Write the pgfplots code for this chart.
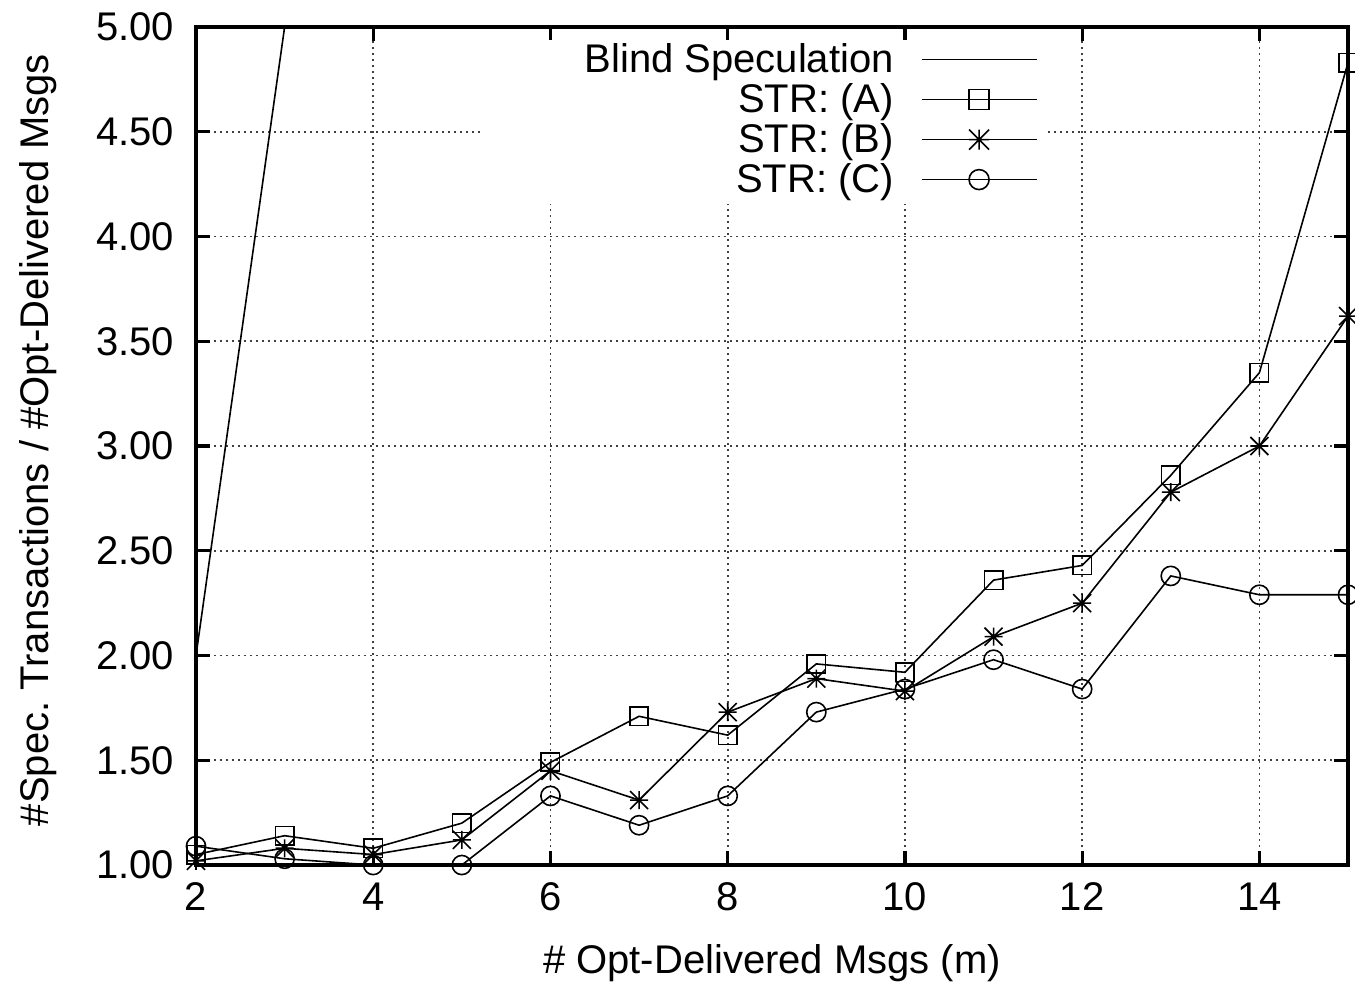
\documentclass[border=0pt]{standalone}
\usepackage{fontspec}
\setmainfont{Liberation Sans}
\usepackage{pgfplots}
\pgfplotsset{compat=1.18}

% gnuplot point type 3: plus and cross together
\pgfdeclareplotmark{gpstar}{%
  \pgfpathmoveto{\pgfqpoint{-\pgfplotmarksize}{0pt}}%
  \pgfpathlineto{\pgfqpoint{\pgfplotmarksize}{0pt}}%
  \pgfpathmoveto{\pgfqpoint{0pt}{-\pgfplotmarksize}}%
  \pgfpathlineto{\pgfqpoint{0pt}{\pgfplotmarksize}}%
  \pgfpathmoveto{\pgfqpoint{-\pgfplotmarksize}{-\pgfplotmarksize}}%
  \pgfpathlineto{\pgfqpoint{\pgfplotmarksize}{\pgfplotmarksize}}%
  \pgfpathmoveto{\pgfqpoint{-\pgfplotmarksize}{\pgfplotmarksize}}%
  \pgfpathlineto{\pgfqpoint{\pgfplotmarksize}{-\pgfplotmarksize}}%
  \pgfusepathqstroke}

\newcommand{\lbl}[1]{\makebox[100pt][r]{#1}}

\begin{document}
\begin{tikzpicture}[font=\fontsize{10}{12}\selectfont]
\begin{axis}[
  at={(0,0)}, anchor=south west,
  scale only axis, width=288pt, height=209.5pt,
  xmin=2, xmax=15, ymin=1, ymax=5,
  xtick={2,4,6,8,10,12,14},
  ytick={1,1.5,2,2.5,3,3.5,4,4.5,5},
  tick align=inside, tick pos=both, major tick length=3.5pt,
  axis line style={line width=0.8pt},
  every tick/.style={black, line width=0.8pt},
  grid=major,
  major grid style={black!75, line width=0.4pt, dash pattern=on 0.4pt off 1.1pt},
  clip mode=individual,
  /pgf/number format/assume math mode=true,
  tick label style={font=\fontsize{10}{12}\selectfont},
  xticklabel style={anchor=center, yshift=-8pt},
  yticklabel style={anchor=east, inner sep=0pt, xshift=-5.25pt,
    /pgf/number format/.cd, fixed, fixed zerofill, precision=2},
  every axis x label/.style={at={(rel axis cs:0.5,0)}, yshift=-24.5pt, anchor=center},
  every axis y label/.style={at={(rel axis cs:0,0.5)}, xshift=-39.5pt, yshift=1.5pt, rotate=90, anchor=center},
  xlabel={\# Opt-Delivered Msgs (m)},
  ylabel={\#Spec.\ Transactions / \#Opt-Delivered Msgs},
  legend plot pos=right,
  legend cell align=right,
  legend style={at={(rel axis cs:0.2491,0.985)}, anchor=north west,
    fill=white, draw=none, inner xsep=2.5pt, inner ysep=0.5pt,
    row sep=0pt, column sep=6.75pt,
    font=\fontsize{10}{12}\selectfont,
    nodes={inner sep=0pt, text height=7.5pt, text depth=2.5pt}},
  legend image code/.code={\draw[mark repeat=2, mark phase=2, #1, mark size=2.5pt]
    plot coordinates {(0pt,0.7pt) (14.375pt,0.7pt) (28.75pt,0.7pt)};},
  every axis plot/.append style={black, line width=0.4pt,
    mark options={line width=0.4pt, solid}},
]
\addplot[no marks] coordinates {(2,2.0) (3,5.0)};
\addlegendentry{\lbl{Blind Speculation}}

\addplot[mark=square, mark size=2.3pt] coordinates {
  (2,1.05) (3,1.14) (4,1.08) (5,1.20) (6,1.49) (7,1.71) (8,1.62)
  (9,1.96) (10,1.92) (11,2.36) (12,2.43) (13,2.86) (14,3.35) (15,4.83)};
\addlegendentry{\lbl{STR: (A)}}

\addplot[mark=gpstar, mark size=2.25pt] coordinates {
  (2,1.02) (3,1.08) (4,1.05) (5,1.12) (6,1.45) (7,1.31) (8,1.73)
  (9,1.89) (10,1.83) (11,2.09) (12,2.25) (13,2.78) (14,3.00) (15,3.62)};
\addlegendentry{\lbl{STR: (B)}}

\addplot[mark=o, mark size=2.4pt] coordinates {
  (2,1.09) (3,1.03) (4,1.00) (5,1.00) (6,1.33) (7,1.19) (8,1.33)
  (9,1.73) (10,1.84) (11,1.98) (12,1.84) (13,2.38) (14,2.29) (15,2.29)};
\addlegendentry{\lbl{STR: (C)}}
\end{axis}
\pgfresetboundingbox
\path[use as bounding box] (current axis.south west) ++(-49pt,-31.25pt) rectangle ++(338.75pt,247.5pt);
\end{tikzpicture}
\end{document}
